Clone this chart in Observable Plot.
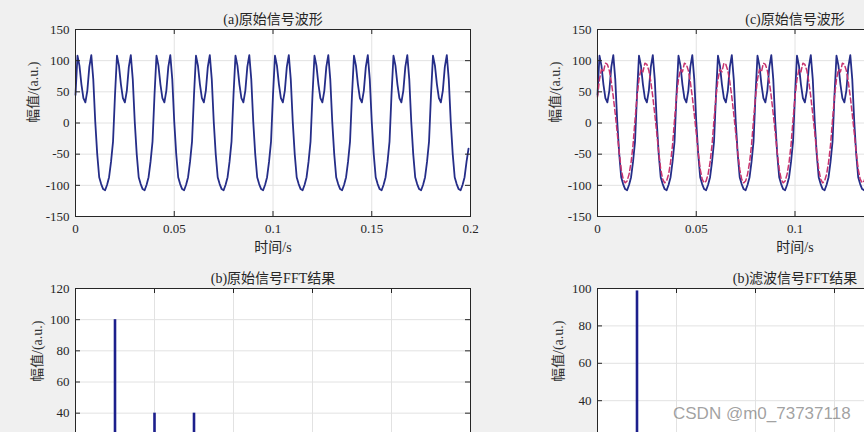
<!DOCTYPE html>
<html><head><meta charset="utf-8">
<script src="https://cdn.jsdelivr.net/npm/d3@7"></script>
<script src="https://cdn.jsdelivr.net/npm/@observablehq/plot@0.6"></script>
<style>
html,body{margin:0;padding:0;background:#f0f0f0;}
#fig{position:relative;width:864px;height:432px;overflow:hidden;background:#f0f0f0;}
.panel{position:absolute;width:500px;height:270px;}
.panel svg{overflow:visible;max-width:none;}
#wm{position:absolute;left:673px;top:404px;font:17px "Liberation Sans",Arial,sans-serif;color:rgba(120,120,120,0.7);white-space:nowrap;}
</style></head><body><div id="fig"></div>
<script>
// ---- data ----
const sampleStep = 0.001; // s between samples
const rawSignal = [
45,108,92,62,40,33,52,90,109,70,2,-50,-87,-98,-106,-108,-99,-87,-62,-30,
45,108,92,62,40,33,52,90,109,70,2,-50,-87,-98,-106,-108,-99,-87,-62,-30,
45,108,92,62,40,33,52,90,109,70,2,-50,-87,-98,-106,-108,-99,-87,-62,-30,
45,108,92,62,40,33,52,90,109,70,2,-50,-87,-98,-106,-108,-99,-87,-62,-30,
45,108,92,62,40,33,52,90,109,70,2,-50,-87,-98,-106,-108,-99,-87,-62,-30,
45,108,92,62,40,33,52,90,109,70,2,-50,-87,-98,-106,-108,-99,-87,-62,-30,
45,108,92,62,40,33,52,90,109,70,2,-50,-87,-98,-106,-108,-99,-87,-62,-30,
45,108,92,62,40,33,52,90,109,70,2,-50,-87,-98,-106,-108,-99,-87,-62,-30,
45,108,92,62,40,33,52,90,109,70,2,-50,-87,-98,-106,-108,-99,-87,-62,-30,
45,108,92,62,40,33,52,90,109,70,2,-50,-87,-98,-106,-108,-99,-87,-62,-41
];
const filteredSignal = [
42,70,86,82,96,94,84,66,42,14,-16,-47,-74,-90,-96,-93,-82,-63,-35,5,
42,70,86,82,96,94,84,66,42,14,-16,-47,-74,-90,-96,-93,-82,-63,-35,5,
42,70,86,82,96,94,84,66,42,14,-16,-47,-74,-90,-96,-93,-82,-63,-35,5,
42,70,86,82,96,94,84,66,42,14,-16,-47,-74,-90,-96,-93,-82,-63,-35,5,
42,70,86,82,96,94,84,66,42,14,-16,-47,-74,-90,-96,-93,-82,-63,-35,5,
42,70,86,82,96,94,84,66,42,14,-16,-47,-74,-90,-96,-93,-82,-63,-35,5,
42,70,86,82,96,94,84,66,42,14,-16,-47,-74,-90,-96,-93,-82,-63,-35,5,
42,70,86,82,96,94,84,66,42,14,-16,-47,-74,-90,-96,-93,-82,-63,-35,5,
42,70,86,82,96,94,84,66,42,14,-16,-47,-74,-90,-96,-93,-82,-63,-35,5,
42,70,86,82,96,94,84,66,42,14,-16,-47,-74,-90,-96,-93,-82,-63,-35,-2
];
const timeTicks = [0, 0.05, 0.1, 0.15, 0.2];
const timeTickLabelsRight = [0, 0.05, 0.1];          // labels visible in the cropped right panel
const ampTicks = [-150, -100, -50, 0, 50, 100, 150];
const fftFreqs = [50, 100, 150];
const fftAmps = [100, 40, 40];
const filtFftFreqs = [50];
const filtFftAmps = [98.7];
const freqTicks = [0, 100, 200, 300, 400, 500];
const fftTicksRaw = [0, 20, 40, 60, 80, 100, 120];
const fftTickLabelsRaw = [40, 60, 80, 100, 120];     // labels visible above the crop
const fftTicksFilt = [0, 20, 40, 60, 80, 100];
const fftTickLabelsFilt = [40, 60, 80, 100];
const titleA = "(a)原始信号波形";
const titleB = "(b)原始信号FFT结果";
const titleC = "(c)原始信号波形";
const titleD = "(b)滤波信号FFT结果";
const yLabel = "幅值/(a.u.)";
const timeLabel = "时间/s";
const watermark = "CSDN @m0_73737118";

// ---- drawing ----
const FONT = '"Liberation Serif","Times New Roman","Noto Sans CJK SC",serif';
const INK = "#262626";
const GRID = "#e2e2e2";
const W = 500, H = 270, ML = 75, MR = 30, MT = 29, MB = 54;
const PW = W - ML - MR, PH = H - MT - MB, TK = 5;

function panel({left, top, xDomain, yDomain, xTicks, yTicks, xLabels, yLabels, title, xlabel, ylabelDx, marks}) {
  const extra = [];
  if (xLabels.length) extra.push(Plot.axisX(xLabels, {tickSize: 0, tickPadding: 7, tickFormat: d => String(d), label: null, fontSize: 13, fill: INK}));
  if (xlabel) extra.push(Plot.text([xlabel], {text: d => d, frameAnchor: "bottom", dy: 35, fontSize: 14, fill: INK}));
  const xOpts = xLabels.length ? {domain: xDomain} : {domain: xDomain, axis: null};
  const svg = Plot.plot({
    width: W, height: H, marginLeft: ML, marginRight: MR, marginTop: MT, marginBottom: MB,
    style: {background: "transparent", overflow: "visible", fontFamily: FONT, fontSize: "13px", color: INK},
    x: xOpts,
    y: {domain: yDomain},
    marks: [
      Plot.frame({fill: "white", stroke: null}),
      Plot.gridX(xTicks, {stroke: GRID, strokeOpacity: 1}),
      Plot.gridY(yTicks, {stroke: GRID, strokeOpacity: 1}),
      ...marks,
      Plot.ruleX(xTicks, {x: d => d, insetTop: PH - TK, stroke: INK}),
      Plot.ruleX(xTicks, {x: d => d, insetBottom: PH - TK, stroke: INK}),
      Plot.ruleY(yTicks, {y: d => d, insetRight: PW - TK, stroke: INK}),
      Plot.ruleY(yTicks, {y: d => d, insetLeft: PW - TK, stroke: INK}),
      Plot.frame({stroke: INK, strokeWidth: 1}),
      Plot.axisY(yLabels, {tickSize: 0, tickPadding: 6, tickFormat: d => String(d), label: null, fontSize: 13, fill: INK}),
      Plot.text([title], {text: d => d, frameAnchor: "top", dy: -15, fontSize: 14, fill: INK}),
      Plot.text([yLabel], {text: d => d, frameAnchor: "left", dx: ylabelDx, rotate: -90, fontSize: 14, fill: "#333"}),
      ...extra
    ]
  });
  const div = document.createElement("div");
  div.className = "panel";
  div.style.left = left + "px";
  div.style.top = top + "px";
  div.appendChild(svg);
  document.getElementById("fig").appendChild(div);
}

const SOLID = "#252d88";
const DASH = "#c8336e";
const SPIKE = "#1c1f8c";

panel({left: 0, top: 0, xDomain: [0, 0.2], yDomain: [-150, 150], xTicks: timeTicks, yTicks: ampTicks,
  xLabels: timeTicks, yLabels: ampTicks, title: titleA, xlabel: timeLabel, ylabelDx: -42,
  marks: [Plot.line(rawSignal, {x: (d, i) => i * sampleStep, y: d => d, stroke: SOLID, strokeWidth: 1.8})]});

panel({left: 522, top: 0, xDomain: [0, 0.2], yDomain: [-150, 150], xTicks: timeTicks, yTicks: ampTicks,
  xLabels: timeTickLabelsRight, yLabels: ampTicks, title: titleC, xlabel: timeLabel, ylabelDx: -42,
  marks: [
    Plot.line(rawSignal, {x: (d, i) => i * sampleStep, y: d => d, stroke: SOLID, strokeWidth: 1.8}),
    Plot.line(filteredSignal, {x: (d, i) => i * sampleStep, y: d => d, stroke: DASH, strokeWidth: 1.5, strokeDasharray: "5,3"})
  ]});

panel({left: 0, top: 259, xDomain: [0, 500], yDomain: [0, 120], xTicks: freqTicks, yTicks: fftTicksRaw,
  xLabels: [], yLabels: fftTickLabelsRaw, title: titleB, xlabel: null, ylabelDx: -38,
  marks: [Plot.ruleX(fftFreqs, {x: d => d, y1: 0, y2: (d, i) => fftAmps[i], stroke: SPIKE, strokeWidth: 2.6})]});

panel({left: 522, top: 259, xDomain: [0, 500], yDomain: [0, 100], xTicks: freqTicks, yTicks: fftTicksFilt,
  xLabels: [], yLabels: fftTickLabelsFilt, title: titleD, xlabel: null, ylabelDx: -39,
  marks: [Plot.ruleX(filtFftFreqs, {x: d => d, y1: 0, y2: (d, i) => filtFftAmps[i], stroke: SPIKE, strokeWidth: 2.6})]});

const wm = document.createElement("div");
wm.id = "wm";
wm.textContent = watermark;
document.getElementById("fig").appendChild(wm);
</script></body></html>
